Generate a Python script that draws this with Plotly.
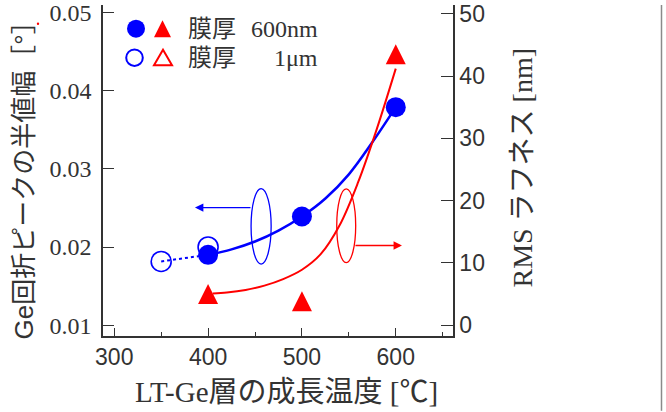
import plotly.graph_objects as go

# ---- data ----
temp_600nm = [400, 500, 600]
fwhm_600nm = [0.0190, 0.0239, 0.0379]          # deg, left axis (filled circles)
temp_1um = [350, 400]
fwhm_1um = [0.01815, 0.0200]                    # deg, left axis (open circles)
rms_600nm = [5.0, 3.85, 43.5]                   # nm, right axis (filled triangles)

# guide curves as drawn in the figure
blue_fit_x = [400, 425, 450, 475, 500, 525, 550, 575, 600]
blue_fit_y = [0.0190, 0.0197, 0.0207, 0.0221, 0.0239, 0.0262, 0.0293, 0.0334, 0.0379]
red_fit_x = [405, 420, 440, 460, 480, 500, 520, 540, 560, 580, 600]
red_fit_y = [5.1, 5.25, 5.65, 6.35, 7.4, 8.9, 11.4, 16.0, 23.0, 31.6, 41.2]

x_ticks = [300, 400, 500, 600]
y_left_ticks = [0.01, 0.02, 0.03, 0.04, 0.05]
y_right_ticks = [0, 10, 20, 30, 40, 50]

BLUE = "#0000ff"
RED = "#ff0000"
INK = "#333333"

W, H = 666, 412
L, R, T, B = 103, 213, 0, 76
PW, PH = W - L - R, H - T - B


def px(xp):
    return (xp - L) / PW


def py(yp):
    return (PH - yp) / PH


fig = go.Figure()

fig.add_trace(go.Scatter(x=blue_fit_x, y=blue_fit_y, mode="lines",
                         line=dict(color=BLUE, width=2.5, shape="spline"),
                         yaxis="y", showlegend=False))
fig.add_trace(go.Scatter(x=[temp_1um[0], temp_600nm[0]], y=[fwhm_1um[0], fwhm_600nm[0]],
                         mode="lines", line=dict(color=BLUE, width=2, dash="dot"),
                         showlegend=False))
fig.add_trace(go.Scatter(x=temp_1um, y=fwhm_1um, mode="markers",
                         marker=dict(symbol="circle-open", size=20, color=BLUE,
                                     line=dict(width=1.6, color=BLUE)),
                         showlegend=False))
fig.add_trace(go.Scatter(x=temp_600nm, y=fwhm_600nm, mode="markers",
                         marker=dict(symbol="circle", size=20, color=BLUE),
                         showlegend=False))
fig.add_trace(go.Scatter(x=red_fit_x, y=red_fit_y, mode="lines",
                         line=dict(color=RED, width=2, shape="spline"),
                         yaxis="y2", showlegend=False))
fig.add_trace(go.Scatter(x=temp_600nm, y=rms_600nm, mode="markers", yaxis="y2",
                         marker=dict(symbol="arrow-down", angle=180, standoff=10,
                                     size=20, color=RED, line=dict(width=0)),
                         showlegend=False))

xrange = [288, 661]
fig.update_layout(
    width=W, height=H,
    margin=dict(l=L, r=R, t=T, b=B, pad=0),
    paper_bgcolor="white", plot_bgcolor="white",
    showlegend=False,
    xaxis=dict(range=xrange, tickvals=x_ticks, ticks="inside", ticklen=8,
               tickwidth=1.3, tickcolor=INK, showline=True, linecolor=INK, linewidth=1.5,
               showgrid=False, zeroline=False, ticklabeloverflow="allow",
               minor=dict(dtick=50, tick0=300, ticks="inside", ticklen=4, tickcolor=INK, tickwidth=1.2),
               tickfont=dict(family="Liberation Sans", size=23, color=INK)),
    xaxis2=dict(range=xrange, overlaying="x", side="top", anchor="y",
                tickvals=x_ticks, ticks="inside", ticklen=8, tickwidth=1.3, tickcolor=INK,
                showline=False, showgrid=False, zeroline=False, showticklabels=False,
                minor=dict(dtick=50, tick0=300, ticks="inside", ticklen=4, tickcolor=INK, tickwidth=1.2)),
    yaxis=dict(range=[0.00861, 0.05097], tickvals=y_left_ticks, tickformat=".2f",
               ticks="inside", ticklen=11, tickwidth=1.3, tickcolor=INK,
               showline=True, linecolor=INK, linewidth=1.5, showgrid=False, zeroline=False,
               ticklabeloverflow="allow", ticklabelstandoff=5,
               tickfont=dict(family="Liberation Serif", size=24, color=INK)),
    yaxis2=dict(range=[-1.74, 51.42], tickvals=y_right_ticks, overlaying="y", side="right",
                anchor="x", ticks="inside", ticklen=12, tickwidth=1.3, tickcolor=INK,
                showline=True, linecolor=INK, linewidth=1.5, showgrid=False, zeroline=False,
                ticklabeloverflow="allow",
                tickfont=dict(family="Liberation Sans", size=23, color=INK)),
)

ann = []
# axis titles
ann.append(dict(text="LT-Ge層の成長温度 [℃]", xref="paper", yref="paper",
                x=px(286), y=py(393), xanchor="center", yanchor="middle", showarrow=False,
                font=dict(family="Liberation Serif, Noto Sans CJK JP", size=29, color=INK)))
ann.append(dict(text="Ge回折ピークの半値幅［°］", xref="paper", yref="paper",
                x=px(24), y=py(342), xanchor="center", yanchor="bottom", showarrow=False,
                textangle=-90,
                font=dict(family="Liberation Sans, Noto Sans CJK JP", size=26, color=INK)))
ann.append(dict(text="RMS ラフネス [nm]", xref="paper", yref="paper",
                x=px(523), y=py(165), xanchor="center", yanchor="middle", showarrow=False,
                textangle=-90,
                font=dict(family="Liberation Serif, Noto Sans CJK JP", size=28, color=INK)))
# legend texts
lf = dict(family="Liberation Serif, Noto Sans CJK JP", size=24, color=INK)
ann.append(dict(text="膜厚", xref="paper", yref="paper", x=px(186), y=py(24),
                xanchor="left", yanchor="middle", showarrow=False, font=lf))
ann.append(dict(text="600nm", xref="paper", yref="paper", x=px(320), y=py(24),
                xanchor="right", yanchor="middle", showarrow=False, font=lf))
ann.append(dict(text="膜厚", xref="paper", yref="paper", x=px(186), y=py(54),
                xanchor="left", yanchor="middle", showarrow=False, font=lf))
ann.append(dict(text="1μm", xref="paper", yref="paper", x=px(320), y=py(54),
                xanchor="right", yanchor="middle", showarrow=False, font=lf))
# axis-pointer arrows
ann.append(dict(x=386, y=0.02504, xref="x", yref="y", ax=57, ay=0, text="",
                showarrow=True, arrowhead=2, arrowsize=1.2, arrowwidth=1.4, arrowcolor=BLUE))
ann.append(dict(x=606.6, y=12.8, xref="x", yref="y2", ax=-48, ay=0, text="",
                showarrow=True, arrowhead=2, arrowsize=1.2, arrowwidth=1.4, arrowcolor=RED))
fig.update_layout(annotations=ann)

shapes = []
# ellipses
shapes.append(dict(type="circle", xref="x", yref="y", x0=445.8, x1=467.2, y0=0.01782, y1=0.02748,
                   line=dict(color=BLUE, width=1.3)))
shapes.append(dict(type="circle", xref="x", yref="y2", x0=537.1, x1=557.3, y0=10.05, y1=21.9,
                   line=dict(color=RED, width=1.3)))
# legend symbols
shapes.append(dict(type="circle", xref="paper", yref="paper", xsizemode="pixel", ysizemode="pixel",
                   xanchor=px(136), yanchor=py(24), x0=-9, x1=9, y0=-9, y1=9,
                   fillcolor=BLUE, line=dict(width=0)))
shapes.append(dict(type="path", xref="paper", yref="paper", xsizemode="pixel", ysizemode="pixel",
                   xanchor=px(162.5), yanchor=py(24), path="M-8.5,-8.5 L8.5,-8.5 L0,8.5 Z",
                   fillcolor=RED, line=dict(width=0)))
shapes.append(dict(type="circle", xref="paper", yref="paper", xsizemode="pixel", ysizemode="pixel",
                   xanchor=px(134.5), yanchor=py(53.5), x0=-8.3, x1=8.3, y0=-8.3, y1=8.3,
                   line=dict(color=BLUE, width=2)))
shapes.append(dict(type="path", xref="paper", yref="paper", xsizemode="pixel", ysizemode="pixel",
                   xanchor=px(163), yanchor=py(53.5), path="M-9,-7.5 L9,-7.5 L0,8 Z",
                   line=dict(color=RED, width=2)))
# small red speck and right image border
shapes.append(dict(type="circle", xref="paper", yref="paper", xsizemode="pixel", ysizemode="pixel",
                   xanchor=px(38), yanchor=py(19), x0=-1.2, x1=1.2, y0=-1.2, y1=1.2,
                   fillcolor=RED, line=dict(width=0)))
shapes.append(dict(type="line", xref="paper", yref="paper", x0=px(661.5), x1=px(661.5),
                   y0=py(412), y1=1.0, line=dict(color="#8a8a8a", width=1.5)))
fig.update_layout(shapes=shapes)

fig.write_html("out.html")
